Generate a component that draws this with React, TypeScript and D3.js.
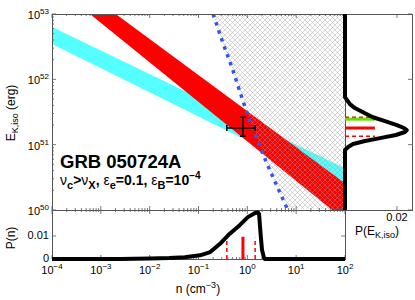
import React from 'react'
import * as d3 from 'd3'

// every n and E value here is log10(n / cm^-3) or log10(E / erg)
const nTicks = [-4, -3, -2, -1, 0, 1, 2]
const eTicks = [50, 51, 52, 53]

// constraint bands, edges given at log n = -4 and 2
const bandN = [-4, 2]
const cyanHi = [52.8, 50.64]
const cyanLo = [52.54, 50.32]
const redHi = [53.72, 50.41]
const redLo = [53.47, 49.84]

// boundary of the excluded (hatched) region
const limitN = [-0.7, -0.52, -0.31, -0.13, 0.06, 0.22, 0.38, 0.55, 0.69, 0.81]
const limitE = [53.0, 52.6, 52.17, 51.76, 51.35, 51.04, 50.75, 50.46, 50.23, 50.03]

// best fit: [low, mid, high]
const fitN = [-0.42, -0.09, 0.16]
const fitE = [51.13, 51.255, 51.42]
const greenE = 51.39

// P(n)
const pnN = [-4, -2.6, -2.0, -1.6, -1.28, -0.97, -0.76, -0.56, -0.36, -0.15, 0.01, 0.16, 0.22, 0.24, 0.27, 0.3, 0.34, 0.36, 2]
const pnP = [0, 0, 0.0002, 0.0004, 0.0008, 0.0016, 0.003, 0.0066, 0.011, 0.0148, 0.0182, 0.02, 0.0202, 0.0196, 0.0113, 0.004, 0.0006, 0, 0]

// P(E_K,iso)
const peE = [53, 51.73, 51.68, 51.62, 51.56, 51.48, 51.42, 51.36, 51.3, 51.255, 51.224, 51.194, 51.148, 51.1, 51.056, 51.01, 50.964, 50.918, 50]
const peP = [0, 0, 0.0008, 0.0019, 0.0038, 0.0077, 0.0108, 0.0154, 0.02, 0.0227, 0.0238, 0.0231, 0.0196, 0.0135, 0.0077, 0.0031, 0.0012, 0, 0]

const pnTicks = [0, 0.01]
const markLenE = 0.0115
const markLenN = 0.0092

const font = 'Liberation Sans, Arial, Helvetica, sans-serif'
const axisColor = '#555'

const L = 52, R = 345, T = 14, B = 210, B2 = 259, R2 = 412

const x = d3.scaleLinear().domain([-4, 2]).range([L, R])
const y = d3.scaleLinear().domain([50, 53]).range([B, T])
const yP = d3.scaleLinear().domain([0, 0.0213]).range([B2, B])
const xP = d3.scaleLinear().domain([0, 0.0258]).range([R, R2])

const minors = (lo: number, hi: number) => {
  const out: number[] = []
  for (let d = lo; d < hi; d++) for (let k = 2; k < 10; k++) out.push(d + Math.log10(k))
  return out
}

const Pow = ({ px, py, exp, anchor }) => (
  <text x={px} y={py} textAnchor={anchor} fontSize={11} fontFamily={font}>
    10<tspan dy={-5} fontSize={8}>{exp}</tspan>
  </text>
)

const App = () => {
  const band = (hi: number[], lo: number[]) =>
    d3.area<number>()
      .x((_, i) => x(bandN[i]))
      .y0((_, i) => y(lo[i]))
      .y1((_, i) => y(hi[i]))(bandN)

  const limitPts: [number, number][] = limitN.map((n, i) => [x(n), y(limitE[i])])
  const limitLine = d3.line().curve(d3.curveMonotoneX)(limitPts)
  const hatchPath = limitLine + `L${x(2)},${y(50)}L${x(2)},${y(53)}Z`

  const pnLine = d3.line<number>().x((n) => x(n)).y((_, i) => yP(pnP[i]))(pnN)
  const peLine = d3.line<number>().x((_, i) => xP(peP[i])).y((e) => y(e))(peE)

  const nMin = minors(-4, 2)
  const eMin = minors(50, 53)

  return (
    <svg width={415} height={300} style={{ position: 'absolute', left: 0, top: 0, background: '#fff' }}>
      <defs>
        <clipPath id="main">
          <rect x={L} y={T} width={R - L} height={B - T} />
        </clipPath>
        <pattern id="hatch" width={5} height={5} patternUnits="userSpaceOnUse">
          <path d="M-1,1 l2,-2 M0,5 l5,-5 M4,6 l2,-2 M-1,4 l2,2 M0,0 l5,5 M4,-1 l2,2"
            stroke="#a0a0a0" strokeWidth={0.6} strokeOpacity={0.7} />
        </pattern>
      </defs>

      {/* main panel */}
      <g clipPath="url(#main)">
        <path d={band(cyanHi, cyanLo)} fill="#55ffff" />
        <path d={band(redHi, redLo)} fill="#ff0000" />
        <path d={hatchPath} fill="url(#hatch)" />
        <path d={limitLine} fill="none" stroke="#3355ee" strokeWidth={3.5} strokeDasharray="3.5 5" />
      </g>
      <g stroke="#000" strokeWidth={1.5}>
        <line x1={x(fitN[0])} x2={x(fitN[2])} y1={y(fitE[1])} y2={y(fitE[1])} />
        <line x1={x(fitN[1])} x2={x(fitN[1])} y1={y(fitE[0])} y2={y(fitE[2])} />
        {[fitN[0], fitN[2]].map((n) => (
          <line key={n} x1={x(n)} x2={x(n)} y1={y(fitE[1]) - 3} y2={y(fitE[1]) + 3} />
        ))}
        {[fitE[0], fitE[2]].map((e) => (
          <line key={e} x1={x(fitN[1]) - 3} x2={x(fitN[1]) + 3} y1={y(e)} y2={y(e)} />
        ))}
      </g>

      {/* frames */}
      <g fill="none" stroke={axisColor} strokeWidth={1}>
        <rect x={L + 0.5} y={T + 0.5} width={R - L} height={B - T} />
        <rect x={L + 0.5} y={B + 0.5} width={R - L} height={B2 - B} />
        <rect x={R + 0.5} y={T + 0.5} width={R2 - R} height={B - T} />
      </g>

      {/* ticks */}
      <g stroke={axisColor} strokeWidth={0.8}>
        {nTicks.map((n) => (
          <g key={'nt' + n}>
            <line x1={x(n)} x2={x(n)} y1={T} y2={T + 4} />
            <line x1={x(n)} x2={x(n)} y1={B - 4} y2={B + 4} />
            <line x1={x(n)} x2={x(n)} y1={B2 - 4} y2={B2} />
          </g>
        ))}
        {nMin.map((n) => (
          <g key={'nm' + n}>
            <line x1={x(n)} x2={x(n)} y1={T} y2={T + 2} />
            <line x1={x(n)} x2={x(n)} y1={B - 2} y2={B + 2} />
            <line x1={x(n)} x2={x(n)} y1={B2 - 2} y2={B2} />
          </g>
        ))}
        {eTicks.map((e) => (
          <g key={'et' + e}>
            <line x1={L} x2={L + 4} y1={y(e)} y2={y(e)} />
            <line x1={R2 - 4} x2={R2} y1={y(e)} y2={y(e)} />
          </g>
        ))}
        {eMin.map((e) => (
          <line key={'em' + e} x1={L} x2={L + 2} y1={y(e)} y2={y(e)} />
        ))}
        {pnTicks.map((p) => (
          <g key={'pt' + p}>
            <line x1={L} x2={L + 4} y1={yP(p)} y2={yP(p)} />
            <line x1={R - 4} x2={R} y1={yP(p)} y2={yP(p)} />
          </g>
        ))}
        <line x1={xP(0.02)} x2={xP(0.02)} y1={T} y2={T + 4} />
        <line x1={xP(0.02)} x2={xP(0.02)} y1={B - 4} y2={B} />
      </g>

      {/* P(n) panel */}
      <path d={pnLine} fill="none" stroke="#000" strokeWidth={4} strokeLinejoin="round" />
      {fitN.map((n, i) => (
        <line key={'mn' + i} x1={x(n)} x2={x(n)} y1={yP(0)} y2={yP(i === 1 ? markLenN * 1.05 : markLenN)}
          stroke="#ff0000" strokeWidth={i === 1 ? 3 : 1.5} strokeDasharray={i === 1 ? undefined : '4 3'} />
      ))}

      {/* P(E) panel */}
      {fitE.map((e, i) => (
        <line key={'me' + i} x1={xP(0)} x2={xP(markLenE)} y1={y(e)} y2={y(e)}
          stroke="#ff0000" strokeWidth={i === 1 ? 3 : 1.5} strokeDasharray={i === 1 ? undefined : '4 3'} />
      ))}
      <line x1={xP(0)} x2={xP(markLenE)} y1={y(greenE)} y2={y(greenE)} stroke="#66e000" strokeWidth={3} />
      <path d={peLine} fill="none" stroke="#000" strokeWidth={4} strokeLinejoin="round" />

      {/* tick labels */}
      {eTicks.map((e) => (
        <Pow key={'el' + e} px={49} py={y(e) + 5} exp={e} anchor="end" />
      ))}
      {nTicks.map((n) => (
        <Pow key={'nl' + n} px={x(n)} py={274} exp={n < 0 ? '\u2212' + -n : n} anchor="middle" />
      ))}
      {pnTicks.map((p) => (
        <text key={'pl' + p} x={49} y={yP(p) + 3} textAnchor="end" fontSize={11} fontFamily={font}>
          {p === 0 ? '0' : p}
        </text>
      ))}
      <text x={xP(0.02)} y={221} textAnchor="middle" fontSize={11} fontFamily={font}>0.02</text>

      {/* axis labels */}
      <text transform="translate(15,113) rotate(-90)" textAnchor="middle" fontSize={12} fontFamily={font}>
        E<tspan dy={3} fontSize={9}>K,iso</tspan><tspan dy={-3}> (erg)</tspan>
      </text>
      <text transform="translate(15,238) rotate(-90)" textAnchor="middle" fontSize={12} fontFamily={font}>
        P(n)
      </text>
      <text x={198} y={293} textAnchor="middle" fontSize={12} fontFamily={font}>
        n (cm<tspan dy={-5} fontSize={9}>{'\u22123'}</tspan><tspan dy={5}>)</tspan>
      </text>
      <text x={355} y={235} fontSize={12} fontFamily={font}>
        P(E<tspan dy={3} fontSize={9}>K,iso</tspan><tspan dy={-3}>)</tspan>
      </text>

      {/* annotation */}
      <text x={60} y={168} fontSize={18.5} fontWeight="bold" fontFamily={font}>GRB 050724A</text>
      <text x={60} y={185} fontSize={14} fontWeight="bold" fontFamily={font}>
        <tspan fontWeight="normal">ν</tspan>
        <tspan dy={4} fontSize={11}>c</tspan>
        <tspan dy={-4}>&gt;</tspan>
        <tspan fontWeight="normal">ν</tspan>
        <tspan dy={4} fontSize={11}>X</tspan>
        <tspan dy={-4}>, </tspan>
        <tspan fontWeight="normal">ε</tspan>
        <tspan dy={4} fontSize={11}>e</tspan>
        <tspan dy={-4}>=0.1, </tspan>
        <tspan fontWeight="normal">ε</tspan>
        <tspan dy={4} fontSize={11}>B</tspan>
        <tspan dy={-4}>=10</tspan>
        <tspan dy={-6} fontSize={10}>{'\u22124'}</tspan>
      </text>
    </svg>
  )
}

export default App
